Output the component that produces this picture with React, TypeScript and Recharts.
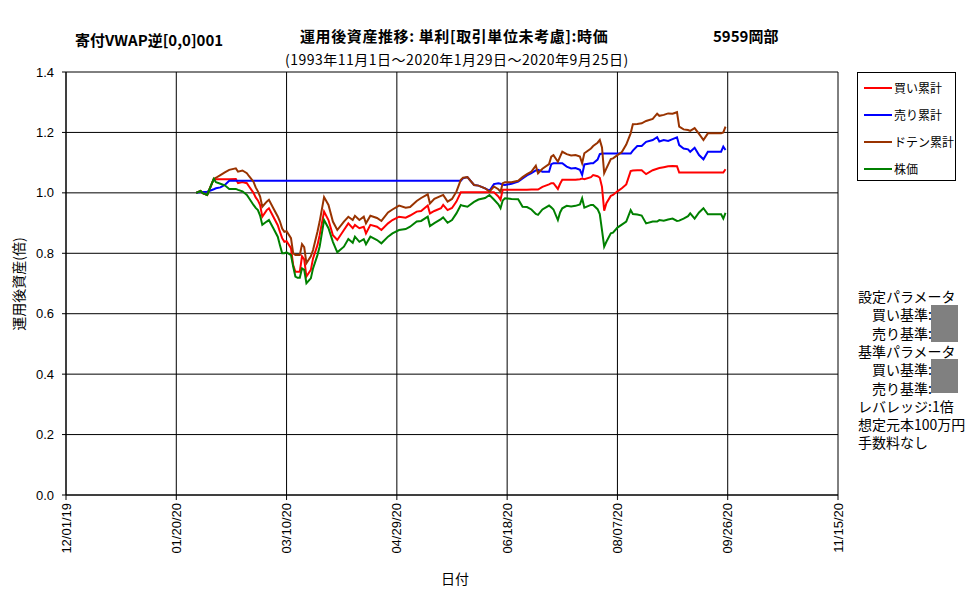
import { LineChart, Line, XAxis, YAxis, CartesianGrid } from 'recharts';

// days counted from 2019-12-01 (trading days between 2020-01-29 and 2020-09-25)
const days = [
  59, 61, 62, 64, 67, 68, 70, 72, 74, 77, 78, 80, 82, 83, 85, 86, 87, 88, 89, 91,
  92, 94, 96, 97, 98, 99, 100, 102, 103, 104, 105, 106, 107, 108, 109, 111, 112, 114, 115, 117,
  119, 121, 123, 126, 128, 130, 131, 133, 135, 136, 138, 141, 143, 146, 148, 151, 154, 156, 159, 161,
  164, 165, 167, 170, 171, 173, 175, 177, 179, 180, 182, 185, 187, 190, 192, 194, 196, 197, 198, 199,
  202, 205, 207, 209, 211, 213, 214, 216, 219, 220, 221, 223, 224, 225, 227, 229, 231, 233, 234, 235,
  238, 239, 241, 242, 243, 244, 245, 247, 248, 250, 252, 254, 256, 257, 259, 261, 263, 266, 268, 269,
  271, 273, 275, 277, 278, 280, 282, 283, 285, 287, 289, 291, 293, 296, 297, 298, 299,
];

const stockPrice = [
  1.000, 1.006, 0.999, 0.993, 1.046, 1.035, 1.030, 1.025, 1.013, 1.013, 1.010, 1.005, 0.993, 0.982, 0.960, 0.950, 0.943, 0.925, 0.894, 0.905,
  0.910, 0.883, 0.855, 0.827, 0.800, 0.800, 0.803, 0.794, 0.756, 0.723, 0.719, 0.719, 0.750, 0.745, 0.701, 0.717, 0.750, 0.794, 0.822, 0.910,
  0.883, 0.838, 0.803, 0.822, 0.847, 0.835, 0.855, 0.838, 0.847, 0.830, 0.855, 0.844, 0.833, 0.855, 0.866, 0.877, 0.880, 0.888, 0.905, 0.907,
  0.921, 0.890, 0.900, 0.913, 0.919, 0.901, 0.910, 0.932, 0.960, 0.957, 0.954, 0.970, 0.978, 0.983, 0.993, 0.978, 0.962, 0.949, 0.975, 0.982,
  0.980, 0.979, 0.954, 0.953, 0.945, 0.930, 0.927, 0.945, 0.958, 0.952, 0.945, 0.910, 0.935, 0.949, 0.957, 0.955, 0.957, 0.962, 0.982, 0.951,
  0.960, 0.960, 0.946, 0.930, 0.877, 0.822, 0.838, 0.866, 0.868, 0.885, 0.895, 0.905, 0.943, 0.930, 0.928, 0.925, 0.899, 0.905, 0.905, 0.910,
  0.908, 0.912, 0.915, 0.907, 0.908, 0.915, 0.923, 0.932, 0.915, 0.935, 0.949, 0.929, 0.929, 0.929, 0.929, 0.915, 0.934,
];

const buyTotal = [
  1.000, 1.006, 0.999, 0.993, 1.046, 1.045, 1.045, 1.045, 1.045, 1.046, 1.032, 1.036, 1.032, 1.021, 1.000, 0.985, 0.975, 0.960, 0.921, 0.943,
  0.949, 0.921, 0.893, 0.871, 0.850, 0.838, 0.840, 0.817, 0.761, 0.739, 0.739, 0.739, 0.790, 0.780, 0.723, 0.745, 0.783, 0.827, 0.860, 0.938,
  0.910, 0.860, 0.844, 0.877, 0.899, 0.883, 0.894, 0.883, 0.888, 0.866, 0.894, 0.888, 0.877, 0.899, 0.910, 0.921, 0.918, 0.925, 0.938, 0.940,
  0.958, 0.932, 0.940, 0.949, 0.960, 0.943, 0.950, 0.971, 1.002, 1.002, 1.002, 1.002, 1.002, 1.002, 1.002, 1.002, 0.988, 0.977, 1.010, 1.010,
  1.010, 1.010, 1.010, 1.010, 1.011, 1.011, 1.011, 1.020, 1.028, 1.032, 1.032, 1.013, 1.030, 1.043, 1.043, 1.043, 1.043, 1.045, 1.047, 1.045,
  1.052, 1.059, 1.055, 1.050, 1.020, 0.941, 0.966, 0.990, 0.993, 1.005, 1.015, 1.028, 1.072, 1.074, 1.075, 1.075, 1.062, 1.075, 1.080, 1.082,
  1.085, 1.088, 1.089, 1.088, 1.067, 1.067, 1.067, 1.067, 1.067, 1.067, 1.067, 1.067, 1.067, 1.067, 1.067, 1.067, 1.078,
];

const sellTotal = [
  1.000, 1.002, 1.003, 1.004, 1.012, 1.015, 1.018, 1.026, 1.040, 1.040, 1.040, 1.040, 1.040, 1.040, 1.040, 1.040, 1.040, 1.040, 1.040, 1.040,
  1.040, 1.040, 1.040, 1.040, 1.040, 1.040, 1.040, 1.040, 1.040, 1.040, 1.040, 1.040, 1.040, 1.040, 1.040, 1.040, 1.040, 1.040, 1.040, 1.040,
  1.040, 1.040, 1.040, 1.040, 1.040, 1.040, 1.040, 1.040, 1.040, 1.040, 1.040, 1.040, 1.040, 1.040, 1.040, 1.040, 1.040, 1.040, 1.040, 1.040,
  1.040, 1.040, 1.040, 1.040, 1.040, 1.040, 1.040, 1.040, 1.040, 1.048, 1.052, 1.026, 1.024, 1.015, 1.007, 1.029, 1.032, 1.030, 1.027, 1.026,
  1.030, 1.037, 1.048, 1.058, 1.065, 1.074, 1.076, 1.070, 1.070, 1.095, 1.098, 1.098, 1.098, 1.098, 1.087, 1.081, 1.082, 1.076, 1.059, 1.094,
  1.098, 1.098, 1.110, 1.128, 1.130, 1.130, 1.130, 1.130, 1.130, 1.130, 1.130, 1.130, 1.130, 1.140, 1.155, 1.155, 1.169, 1.175, 1.184, 1.170,
  1.175, 1.172, 1.178, 1.184, 1.158, 1.147, 1.144, 1.136, 1.149, 1.125, 1.111, 1.136, 1.136, 1.136, 1.136, 1.153, 1.142,
];

const dotenTotal = [
  1.000, 1.006, 0.999, 0.993, 1.046, 1.050, 1.059, 1.068, 1.076, 1.081, 1.070, 1.074, 1.065, 1.055, 1.037, 1.018, 1.005, 0.988, 0.954, 0.971,
  0.977, 0.949, 0.922, 0.905, 0.882, 0.871, 0.873, 0.850, 0.800, 0.794, 0.794, 0.794, 0.830, 0.820, 0.767, 0.790, 0.811, 0.871, 0.905, 0.986,
  0.960, 0.905, 0.877, 0.905, 0.921, 0.910, 0.924, 0.910, 0.921, 0.899, 0.924, 0.917, 0.907, 0.935, 0.945, 0.958, 0.951, 0.953, 0.973, 0.983,
  0.995, 0.965, 0.980, 0.990, 0.993, 0.971, 0.980, 1.004, 1.043, 1.050, 1.052, 1.026, 1.024, 1.015, 1.004, 1.021, 1.012, 1.004, 1.032, 1.035,
  1.035, 1.040, 1.052, 1.062, 1.070, 1.090, 1.065, 1.080, 1.095, 1.120, 1.125, 1.103, 1.120, 1.136, 1.128, 1.124, 1.125, 1.120, 1.098, 1.131,
  1.147, 1.155, 1.166, 1.175, 1.150, 1.065, 1.081, 1.112, 1.114, 1.125, 1.135, 1.160, 1.197, 1.227, 1.228, 1.230, 1.238, 1.245, 1.262, 1.255,
  1.258, 1.263, 1.262, 1.267, 1.219, 1.210, 1.208, 1.205, 1.214, 1.195, 1.175, 1.197, 1.197, 1.197, 1.197, 1.200, 1.219,
];

const xTicks = [0, 50, 100, 150, 200, 250, 300, 350];
const xTickLabels = ['12/01/19', '01/20/20', '03/10/20', '04/29/20', '06/18/20', '08/07/20', '09/26/20', '11/15/20'];
const yTicks = [0, 0.2, 0.4, 0.6, 0.8, 1.0, 1.2, 1.4];

const seriesNames = ['買い累計', '売り累計', 'ドテン累計', '株価'];
const seriesColors = ['#ff0000', '#0000ff', '#993300', '#008000'];

const paramLines = ['設定パラメータ', '　買い基準:', '　売り基準:', '基準パラメータ', '　買い基準:', '　売り基準:', 'レバレッジ:1倍', '想定元本100万円', '手数料なし'];

const data = days.map((d, i) => ({
  day: d,
  buy: buyTotal[i],
  sell: sellTotal[i],
  doten: dotenTotal[i],
  stock: stockPrice[i],
}));

const jp = "'Noto Sans CJK JP', sans-serif";
const num = "'Liberation Sans', Arial, sans-serif";

const XTick = (props: any) => {
  const { x, y, payload } = props;
  const label = xTickLabels[xTicks.indexOf(payload.value)];
  return (
    <text
      x={x}
      y={y + 1}
      transform={`rotate(-90 ${x} ${y + 1})`}
      textAnchor="end"
      dominantBaseline="central"
      fontSize={13}
      fontFamily={num}
      fill="#000"
    >
      {label}
    </text>
  );
};

export default function App() {
  return (
    <div style={{ position: 'absolute', left: 0, top: 0, width: 977, height: 600, background: '#fff' }}>
      <LineChart
        width={977}
        height={600}
        data={data}
        margin={{ top: 72, right: 139, bottom: 35, left: 16 }}
      >
        <CartesianGrid stroke="#000" strokeWidth={1} />
        <XAxis
          dataKey="day"
          type="number"
          domain={[0, 350]}
          ticks={xTicks}
          tick={<XTick />}
          height={70}
          interval={0}
          axisLine={{ stroke: '#000' }}
          tickLine={{ stroke: '#000' }}
          tickSize={5}
          label={{
            content: () => (
              <text x={455} y={578} textAnchor="middle" dominantBaseline="central" fontSize={14} fontFamily={jp} fill="#000">
                日付
              </text>
            ),
          }}
        />
        <YAxis
          type="number"
          domain={[0, 1.4]}
          ticks={yTicks}
          interval={0}
          width={50}
          tickFormatter={(v: number) => v.toFixed(1)}
          tick={{ fontSize: 13, fontFamily: num, fill: '#000' }}
          axisLine={{ stroke: '#000' }}
          tickLine={{ stroke: '#000' }}
          tickSize={4}
          tickMargin={8}
          label={{
            content: () => (
              <text
                x={18}
                y={284}
                transform="rotate(-90 18 284)"
                textAnchor="middle"
                dominantBaseline="central"
                fontSize={14}
                fontFamily={jp}
                fill="#000"
              >
                運用後資産(倍)
              </text>
            ),
          }}
        />
        <Line type="linear" dataKey="buy" stroke={seriesColors[0]} strokeWidth={2} dot={false} isAnimationActive={false} />
        <Line type="linear" dataKey="sell" stroke={seriesColors[1]} strokeWidth={2} dot={false} isAnimationActive={false} />
        <Line type="linear" dataKey="doten" stroke={seriesColors[2]} strokeWidth={2} dot={false} isAnimationActive={false} />
        <Line type="linear" dataKey="stock" stroke={seriesColors[3]} strokeWidth={2} dot={false} isAnimationActive={false} />
      </LineChart>

      {/* titles */}
      <div style={{ position: 'absolute', left: 75, top: 31, fontFamily: jp, fontWeight: 'bold', fontSize: 15, lineHeight: '18px', whiteSpace: 'nowrap' }}>
        寄付VWAP逆[0,0]001
      </div>
      <div style={{ position: 'absolute', left: 300, top: 27, fontFamily: jp, fontWeight: 'bold', fontSize: 15, letterSpacing: 0.6, lineHeight: '18px', whiteSpace: 'nowrap' }}>
        運用後資産推移: 単利[取引単位未考慮]:時価
      </div>
      <div style={{ position: 'absolute', left: 713, top: 27, fontFamily: jp, fontWeight: 'bold', fontSize: 15, lineHeight: '18px', whiteSpace: 'nowrap' }}>
        5959岡部
      </div>
      <div style={{ position: 'absolute', left: 285, top: 51, fontFamily: jp, fontSize: 14, letterSpacing: 0.5, lineHeight: '17px', whiteSpace: 'nowrap' }}>
        (1993年11月1日～2020年1月29日～2020年9月25日)
      </div>

      {/* legend */}
      <div style={{ position: 'absolute', left: 857, top: 72, width: 99, height: 109, border: '1px solid #000', boxSizing: 'border-box', background: '#fff' }}>
        {seriesNames.map((name, i) => (
          <div key={name} style={{ position: 'absolute', left: 0, top: 7 + i * 27, height: 16, width: 97 }}>
            <div style={{ position: 'absolute', left: 6, top: 7, width: 28, height: 2, background: seriesColors[i] }} />
            <div style={{ position: 'absolute', left: 36, top: 0, fontFamily: jp, fontSize: 12, lineHeight: '16px', whiteSpace: 'nowrap' }}>{name}</div>
          </div>
        ))}
      </div>

      {/* parameters */}
      {paramLines.map((t, i) => (
        <div key={i} style={{ position: 'absolute', left: 858, top: 288 + i * 18.3, fontFamily: jp, fontSize: 14, lineHeight: '17px', whiteSpace: 'pre' }}>
          {t}
        </div>
      ))}
      <div style={{ position: 'absolute', left: 931, top: 305, width: 27, height: 37, background: '#808080' }} />
      <div style={{ position: 'absolute', left: 931, top: 359, width: 27, height: 34, background: '#808080' }} />
    </div>
  );
}
